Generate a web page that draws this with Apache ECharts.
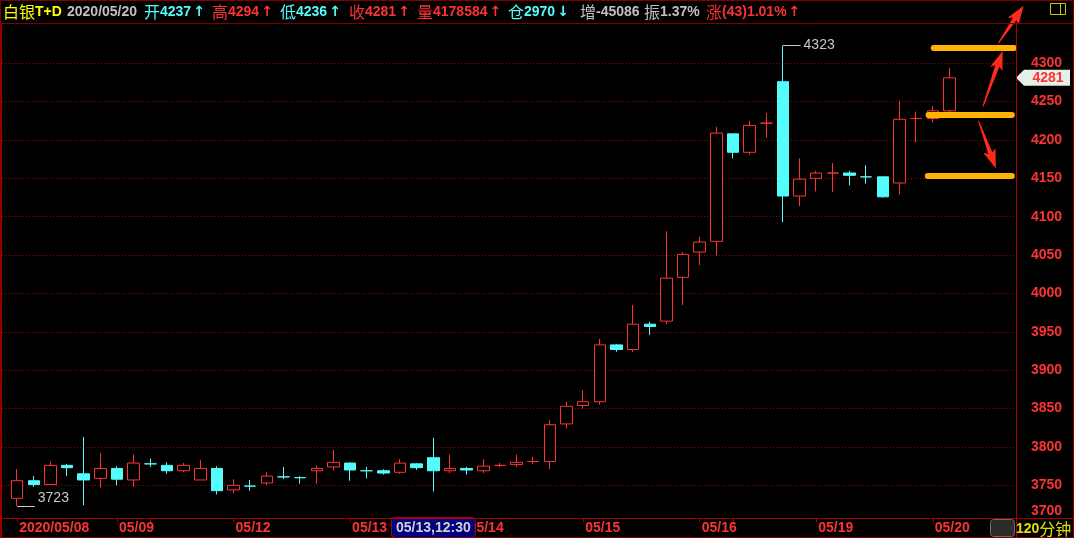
<!DOCTYPE html>
<html><head><meta charset="utf-8">
<script src="https://cdn.jsdelivr.net/npm/echarts@6/dist/echarts.min.js"></script>
<style>html,body{margin:0;padding:0;background:#000;}#c{width:1074px;height:538px;}</style>
</head><body><div id="c"></div>
<script>
// ---------------- data ----------------
const yearPrefix = '2020/';
const barTimes = [
 '05/08,02:30','05/08,09:30','05/08,10:30','05/08,11:30','05/08,12:30','05/08,15:30',
 '05/09,02:00','05/09,02:30',
 '05/11,09:30','05/11,10:30','05/11,11:30','05/11,12:30','05/11,15:30',
 '05/12,02:00','05/12,02:30','05/12,09:30','05/12,10:30','05/12,11:30','05/12,12:30','05/12,15:30',
 '05/13,02:00','05/13,02:30','05/13,09:30','05/13,10:30','05/13,11:30','05/13,12:30','05/13,15:30',
 '05/14,02:00','05/14,02:30','05/14,09:30','05/14,10:30','05/14,11:30','05/14,12:30','05/14,15:30',
 '05/15,02:00','05/15,02:30','05/15,09:30','05/15,10:30','05/15,11:30','05/15,12:30','05/15,15:30',
 '05/16,02:00','05/16,02:30',
 '05/18,09:30','05/18,10:30','05/18,11:30','05/18,12:30','05/18,15:30',
 '05/19,02:00','05/19,02:30','05/19,09:30','05/19,10:30','05/19,11:30','05/19,12:30','05/19,15:30',
 '05/20,02:00','05/20,02:30'
];
const opens  = [3733,3756,3751,3776,3765,3759,3772,3757,3778,3776,3769,3757,3772,3744,3749,3753,3761,3760,3769,3774,
                3779,3769,3769,3767,3778,3786,3769,3772,3769,3776,3777,3781,3781,3830,3854,3859,3933,3927,3960,3964,
                4021,4054,4068,4208,4184,4222,4276,4127,4150,4157,4157,4152,4152,4144,4228,4228,4238];
const closes = [3756,3751,3776,3773,3757,3772,3758,3779,3778,3769,3776,3772,3743,3750,3749,3762,3761,3760,3772,3780,
                3770,3769,3766,3779,3773,3769,3772,3770,3775,3776,3780,3781,3829,3853,3859,3933,3927,3960,3957,4020,
                4051,4067,4209,4184,4219,4222,4127,4149,4157,4157,4154,4152,4126,4227,4228,4238,4281];
const lows   = [3723,3748,3751,3762,3724,3747,3750,3748,3774,3765,3767,3757,3738,3740,3743,3750,3758,3752,3752,3769,
                3756,3759,3764,3765,3770,3742,3766,3764,3766,3774,3774,3778,3771,3824,3850,3855,3924,3924,3946,3960,
                3985,4037,4049,4176,4181,4203,4093,4114,4133,4132,4141,4143,4125,4129,4197,4223,4236];
const highs  = [3771,3762,3781,3778,3813,3792,3775,3790,3785,3780,3779,3783,3775,3758,3757,3767,3774,3762,3776,3796,
                3780,3774,3771,3784,3779,3812,3790,3774,3784,3779,3790,3787,3835,3859,3874,3941,3934,3985,3963,4081,
                4054,4074,4217,4208,4225,4235,4323,4176,4160,4170,4160,4167,4152,4251,4237,4244,4294];
const priceMin = 3700, priceMax = 4350, priceStep = 50;
const pointerIndex = 25;                 // highlighted bar on the time axis
const levelLines = [                     // hand-drawn horizontal levels [fromBar, toBar, price]
  [55.06, 59.87, 4320], [54.75, 59.75, 4233], [54.7, 59.75, 4153]
];
const arrowsDrawn = [                    // hand-drawn arrows [fromBar, fromPrice, toBar, toPrice]
  [58.02, 4244, 59.2, 4316], [57.75, 4225, 58.79, 4163], [58.94, 4326, 60.46, 4375]
];
const headerItems = [
  {x: 3,   color: '#ffff00', parts: [['cn','白银'], ['dg','T+D']]},
  {x: 67,  color: '#c0c0c0', parts: [['dg','2020/05/20']]},
  {x: 144, color: '#54fcfc', parts: [['cn','开'], ['dg','4237'], ['ar','↑']]},
  {x: 212, color: '#ff3232', parts: [['cn','高'], ['dg','4294'], ['ar','↑']]},
  {x: 280, color: '#54fcfc', parts: [['cn','低'], ['dg','4236'], ['ar','↑']]},
  {x: 349, color: '#ff3232', parts: [['cn','收'], ['dg','4281'], ['ar','↑']]},
  {x: 417, color: '#ff3232', parts: [['cn','量'], ['dg','4178584'], ['ar','↑']]},
  {x: 508, color: '#54fcfc', parts: [['cn','仓'], ['dg','2970'], ['ar','↓']]},
  {x: 580, color: '#c0c0c0', parts: [['cn','增'], ['dg','-45086']]},
  {x: 644, color: '#c0c0c0', parts: [['cn','振'], ['dg','1.37%']]},
  {x: 706, color: '#ff3232', parts: [['cn','涨'], ['dg','(43)1.01%'], ['ar','↑']]}
];
const periodLabel = ['120', '分钟'];

// ---------------- derived ----------------
const RED = '#ff3232', CYAN = '#54fcfc', FRAME = '#a80000';
const xMin = -0.91, xMax = 60;
const candleData = opens.map((o, i) => [i, o, closes[i], lows[i], highs[i]]);
let hiIdx = 0, loIdx = 0;
highs.forEach((h, i) => { if (h > highs[hiIdx]) hiIdx = i; });
lows.forEach((l, i) => { if (l < lows[loIdx]) loIdx = i; });
const dateOf = i => barTimes[i].split(',')[0];
const tickIdx = [], labelIdx = [];
barTimes.forEach((t, i) => {
  if (i === 0 || dateOf(i) !== dateOf(i - 1)) {
    tickIdx.push(i);
    if (!labelIdx.length || i - labelIdx[labelIdx.length - 1] >= 4) labelIdx.push(i);
  }
});
const lastIdx = closes.length - 1;
const markTxt = {color: '#c8c8c8', fontSize: 14, fontFamily: 'Liberation Sans'};

const markLines = [
  [{coord: [hiIdx, highs[hiIdx]], lineStyle: {color: '#c8c8c8', width: 1, type: 'solid'},
    label: Object.assign({show: true, position: 'end', distance: 3, formatter: String(highs[hiIdx])}, markTxt)},
   {coord: [hiIdx + 1.06, highs[hiIdx]]}],
  [{coord: [loIdx, lows[loIdx]], lineStyle: {color: '#c8c8c8', width: 1, type: 'solid'},
    label: Object.assign({show: true, position: 'end', distance: 3, formatter: '{lo|' + lows[loIdx] + '}',
            rich: {lo: Object.assign({padding: [0, 0, 15, 0]}, markTxt)}}, markTxt)},
   {coord: [loIdx + 1.06, lows[loIdx]]}]
].concat(levelLines.map(l => [
  {coord: [l[0], l[2]], lineStyle: {color: '#ffb300', width: 6, type: 'solid', cap: 'round'}, label: {show: false}},
  {coord: [l[1], l[2]]}
]));

const graphics = [
  {type: 'rect', shape: {x: 0.5, y: 0.5, width: 1073, height: 537}, style: {fill: 'none', stroke: '#800000', lineWidth: 1}, z: 100},
  {type: 'line', shape: {x1: 0, y1: 23.5, x2: 1074, y2: 23.5}, style: {stroke: '#800000', lineWidth: 1}, z: 100},
  {type: 'line', shape: {x1: 0, y1: 518.5, x2: 1074, y2: 518.5}, style: {stroke: FRAME, lineWidth: 1}, z: 100},
  {type: 'line', shape: {x1: 1.5, y1: 23, x2: 1.5, y2: 538}, style: {stroke: FRAME, lineWidth: 1}, z: 100},
  {type: 'line', shape: {x1: 1016.5, y1: 23, x2: 1016.5, y2: 538}, style: {stroke: FRAME, lineWidth: 1}, z: 100},
  {type: 'rect', shape: {x: 1050.5, y: 3.5, width: 15, height: 11}, style: {fill: 'none', stroke: '#c8c800', lineWidth: 1}, z: 100},
  {type: 'line', shape: {x1: 1060.5, y1: 3.5, x2: 1060.5, y2: 14.5}, style: {stroke: '#c8c800', lineWidth: 1}, z: 100},
  {type: 'rect', shape: {x: 990.5, y: 519.5, width: 24, height: 17, r: 3}, style: {fill: '#2b2b2b', stroke: '#6a6a6a', lineWidth: 1}, z: 100},
  {type: 'text', x: 1016, y: 529, z: 100, style: {
     text: '{d|' + periodLabel[0] + '}{c|' + periodLabel[1] + '}', verticalAlign: 'middle', align: 'left',
     rich: {d: {fontSize: 14, fontFamily: 'Liberation Sans', fontWeight: 'bold', fill: '#e0e000'},
            c: {fontSize: 16, fontFamily: 'Noto Sans CJK SC', fill: '#e0e000'}}}}
];
headerItems.forEach(h => {
  graphics.push({type: 'text', x: h.x, y: 12, z: 100, style: {
    text: h.parts.map(p => '{' + p[0] + '|' + p[1] + '}').join(''),
    verticalAlign: 'middle', align: 'left',
    rich: {
      cn: {fontSize: 16, fontFamily: 'Noto Sans CJK SC', fill: h.color},
      dg: {fontSize: 14, fontFamily: 'Liberation Sans', fontWeight: 'bold', fill: h.color},
      ar: {fontSize: 14, fontFamily: 'DejaVu Sans', fontWeight: 'bold', fill: h.color, padding: [0, 0, 0, 2]}
    }}});
});

const chart = echarts.init(document.getElementById('c'), null, {renderer: 'canvas'});
chart.setOption({
  backgroundColor: '#000',
  animation: false,
  grid: {left: 2, right: 58, top: 24.9, bottom: 14.3},
  xAxis: {
    type: 'value', min: xMin, max: xMax, offset: -5.7,
    axisLine: {show: false},
    splitLine: {show: false},
    axisTick: {show: true, customValues: tickIdx, length: 4, lineStyle: {color: FRAME}},
    axisLabel: {
      customValues: labelIdx, align: 'left', margin: 3, color: RED, fontSize: 14, fontWeight: 'bold',
      fontFamily: 'Liberation Sans', padding: [0, 0, 0, 2],
      formatter: v => (v === 0 ? yearPrefix : '') + dateOf(Math.round(v))
    },
    axisPointer: {
      show: true, type: 'line', status: 'show', value: pointerIndex, snap: false, triggerTooltip: false,
      lineStyle: {color: 'rgba(0,0,0,0)', width: 0},
      label: {show: true, formatter: p => barTimes[Math.round(p.value)], backgroundColor: '#000080',
              color: '#d0d0d0', fontSize: 14, fontWeight: 'bold', fontFamily: 'Liberation Sans',
              padding: [3, 4, 2, 4], margin: 0, borderColor: '#b00000', borderWidth: 1, shadowBlur: 0}
    }
  },
  yAxis: {
    type: 'value', position: 'right', min: priceMin, max: priceMax, interval: priceStep, scale: true,
    axisLine: {show: false}, axisTick: {show: false},
    splitLine: {show: true, showMinLine: false, showMaxLine: false, lineStyle: {color: '#9a0000', type: [1, 2], width: 1}},
    axisLabel: {
      margin: 15, color: RED, fontSize: 14, fontWeight: 'bold', fontFamily: 'Liberation Sans',
      formatter: v => v >= priceMax ? '' : (v === priceMin ? '{lo|' + v + '}' : String(v)),
      rich: {lo: {padding: [0, 0, 26, 0], color: RED, fontSize: 14, fontWeight: 'bold', fontFamily: 'Liberation Sans'}}
    }
  },
  series: [
    {
      type: 'candlestick', data: candleData, barWidth: 12, clip: false,
      encode: {x: 0, y: [1, 2, 3, 4]},
      itemStyle: {color: '#000000', color0: CYAN, borderColor: RED, borderColor0: CYAN, borderWidth: 1},
      markLine: {silent: true, symbol: ['none', 'none'], animation: false, data: markLines},
      markPoint: {
        silent: true, animation: false,
        data: [{coord: [xMax, closes[lastIdx]]}],
        symbol: 'path://M0,8 L8,0 L54,0 L54,16 L8,16 Z', symbolSize: [54, 16], symbolKeepAspect: false,
        symbolOffset: [27, 0],
        itemStyle: {color: '#e6f0e6'},
        label: {show: true, position: 'inside', offset: [5, 0], formatter: String(closes[lastIdx]), color: RED,
                fontSize: 14, fontWeight: 'bold', fontFamily: 'Liberation Sans'}
      }
    },
    {
      type: 'custom', coordinateSystem: 'cartesian2d', clip: false, silent: true, data: arrowsDrawn,
      encode: {x: [0, 2], y: [1, 3]},
      renderItem: (params, api) => {
        const p0 = api.coord([api.value(0), api.value(1)]);
        const p1 = api.coord([api.value(2), api.value(3)]);
        const dx = p1[0] - p0[0], dy = p1[1] - p0[1], L = Math.hypot(dx, dy);
        const ux = dx / L, uy = dy / L, nx = -uy, ny = ux;
        const hl = 16, hw = 6.5, sw = 2.2;
        const bx = p1[0] - ux * hl, by = p1[1] - uy * hl;
        const pts = [[p0[0] + nx * 0.5, p0[1] + ny * 0.5], [bx + nx * sw, by + ny * sw], [bx + nx * hw - ux * 3, by + ny * hw - uy * 3],
                     p1, [bx - nx * hw - ux * 3, by - ny * hw - uy * 3], [bx - nx * sw, by - ny * sw], [p0[0] - nx * 0.5, p0[1] - ny * 0.5]];
        return {type: 'polygon', shape: {points: pts}, style: {fill: '#ff2a1a'}};
      }
    }
  ],
  graphic: graphics
});
</script>
</body></html>
